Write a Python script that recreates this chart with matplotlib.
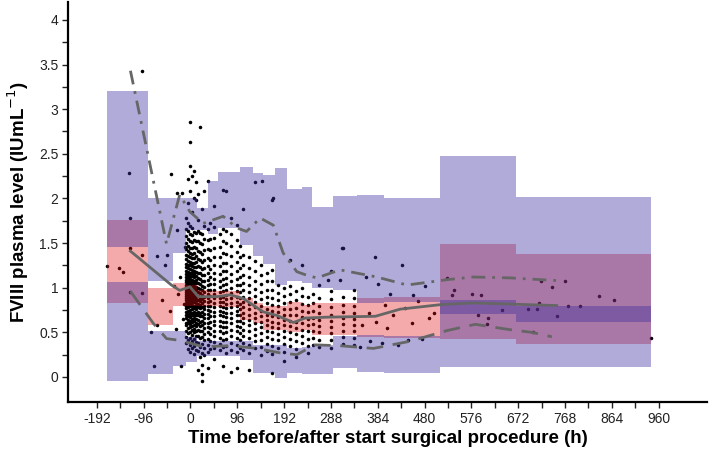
import matplotlib.pyplot as plt

plt.rcParams['font.family'] = ['Liberation Sans', 'DejaVu Sans']

# bins of the prediction intervals (h)
bin_edges = [-171, -88, -35, -10, 13, 36, 57, 101, 129, 149, 173, 197, 228, 249, 293, 341, 396, 512, 667, 945]
# 95% CI of 5th percentile
lo_low = [-0.05, 0.03, 0.12, 0.17, 0.24, 0.24, 0.24, 0.19, 0.04, 0.04, -0.01, 0.05, 0.03, 0.03, 0.10, 0.06, 0.05, 0.115, 0.115]
lo_high = [1.06, 0.51, 0.51, 0.45, 0.40, 0.40, 0.40, 0.40, 0.36, 0.36, 0.36, 0.32, 0.34, 0.36, 0.46, 0.47, 0.46, 0.86, 0.80]
# 95% CI of median
med_low = [0.83, 0.58, 0.80, 0.79, 0.80, 0.80, 0.78, 0.64, 0.60, 0.53, 0.53, 0.50, 0.53, 0.47, 0.47, 0.45, 0.44, 0.43, 0.37]
med_high = [1.76, 1.00, 1.05, 1.03, 0.97, 0.96, 0.96, 0.88, 0.83, 0.79, 0.79, 0.84, 0.81, 0.83, 0.83, 0.88, 0.90, 1.49, 1.38]
# 95% CI of 95th percentile
up_low = [1.46, 1.07, 1.39, 1.65, 1.65, 1.60, 1.67, 1.48, 1.35, 1.27, 1.03, 1.07, 1.05, 1.00, 0.97, 0.83, 0.84, 0.71, 0.62]
up_high = [3.20, 2.00, 2.00, 2.00, 1.89, 2.19, 2.30, 2.35, 2.28, 2.26, 2.34, 2.11, 2.13, 1.90, 2.03, 2.04, 2.00, 2.48, 2.02]

# observed percentiles
med_t = [-123, -39, -22, -1, 16, 54, 81, 108, 149, 177, 211, 235, 279, 379, 430, 512, 580, 751]
med_v = [1.41, 1.03, 0.97, 1.01, 0.90, 0.90, 0.92, 0.88, 0.73, 0.69, 0.61, 0.66, 0.67, 0.68, 0.76, 0.81, 0.83, 0.80]
p95_t = [-123, -49, -22, -1, 26, 67, 95, 115, 143, 170, 190, 218, 238, 259, 307, 382, 444, 526, 580, 655, 751]
p95_v = [3.43, 1.49, 2.04, 1.85, 1.72, 1.80, 1.67, 1.63, 1.78, 1.70, 1.39, 1.18, 1.14, 1.11, 1.20, 1.12, 1.03, 1.09, 1.12, 1.11, 1.08]
p5_t = [-123, -76, -49, -22, 26, 85, 136, 184, 218, 255, 307, 375, 450, 526, 584, 655, 700, 741]
p5_v = [0.96, 0.60, 0.43, 0.41, 0.34, 0.35, 0.32, 0.27, 0.25, 0.36, 0.35, 0.32, 0.40, 0.52, 0.59, 0.53, 0.50, 0.45]

# observations, grouped by sampling time
col_times = [-9, -5, -1, 3, 7, 11, 15, 19, 23, 27, 36, 40, 48, 60, 66, 72, 84, 96, 102, 108,
             120, 132, 144, 156, 168, 180, 192, 204, 216, 228, 240, 252, 264, 288, 312, 336]
col_levels = [
    [0.38, 0.45, 0.52, 0.58, 0.61, 0.66, 0.70, 0.73, 0.77, 0.80, 0.83, 0.86, 0.88, 0.91, 0.93, 0.95, 0.98, 1.01, 1.03, 1.06, 1.09, 1.12, 1.15, 1.19, 1.23, 1.27, 1.32, 1.37, 1.43, 1.50, 1.58, 1.66, 1.78],
    [0.31, 0.42, 0.49, 0.55, 0.60, 0.64, 0.68, 0.71, 0.74, 0.78, 0.81, 0.84, 0.87, 0.89, 0.92, 0.94, 0.97, 0.99, 1.02, 1.05, 1.08, 1.11, 1.14, 1.18, 1.22, 1.26, 1.30, 1.35, 1.41, 1.47, 1.55, 1.63, 1.72, 1.95, 2.22],
    [0.28, 0.36, 0.44, 0.50, 0.56, 0.59, 0.63, 0.67, 0.70, 0.72, 0.75, 0.79, 0.82, 0.85, 0.88, 0.90, 0.93, 0.96, 1.00, 1.04, 1.07, 1.10, 1.13, 1.17, 1.21, 1.25, 1.29, 1.34, 1.39, 1.45, 1.52, 1.60, 1.69, 2.08, 2.36, 2.63, 2.86],
    [0.33, 0.40, 0.47, 0.53, 0.57, 0.62, 0.65, 0.69, 0.72, 0.76, 0.80, 0.83, 0.86, 0.89, 0.91, 0.94, 0.97, 1.00, 1.03, 1.06, 1.09, 1.13, 1.16, 1.20, 1.24, 1.28, 1.33, 1.38, 1.44, 1.51, 1.59, 1.67, 1.85, 2.25],
    [0.26, 0.35, 0.43, 0.50, 0.54, 0.58, 0.63, 0.66, 0.70, 0.73, 0.77, 0.80, 0.84, 0.87, 0.90, 0.92, 0.95, 0.99, 1.02, 1.05, 1.08, 1.12, 1.15, 1.19, 1.23, 1.28, 1.33, 1.39, 1.46, 1.54, 1.62, 2.00, 2.31],
    [0.30, 0.39, 0.46, 0.52, 0.57, 0.61, 0.65, 0.69, 0.72, 0.76, 0.79, 0.83, 0.86, 0.90, 0.93, 0.97, 1.01, 1.05, 1.09, 1.13, 1.18, 1.23, 1.29, 1.36, 1.44, 1.52, 1.61, 1.98, 2.18],
    [0.08, 0.29, 0.38, 0.46, 0.53, 0.59, 0.64, 0.69, 0.73, 0.78, 0.82, 0.86, 0.91, 0.95, 1.00, 1.05, 1.11, 1.17, 1.24, 1.32, 1.41, 1.52, 1.63, 1.76, 2.05],
    [0.22, 0.34, 0.44, 0.51, 0.57, 0.62, 0.68, 0.72, 0.77, 0.81, 0.85, 0.89, 0.94, 0.99, 1.04, 1.10, 1.16, 1.23, 1.31, 1.40, 1.50, 1.61, 2.80],
    [-0.04, 0.03, 0.13, 0.27, 0.37, 0.45, 0.52, 0.58, 0.63, 0.68, 0.73, 0.78, 0.83, 0.87, 0.92, 0.97, 1.02, 1.08, 1.14, 1.21, 1.29, 1.38, 1.49, 1.60, 1.88],
    [0.25, 0.33, 0.41, 0.48, 0.55, 0.60, 0.66, 0.71, 0.76, 0.80, 0.85, 0.90, 0.95, 1.01, 1.07, 1.14, 1.22, 1.31, 1.42, 1.55, 1.69, 2.08],
    [0.10, 0.28, 0.36, 0.43, 0.50, 0.56, 0.61, 0.66, 0.71, 0.75, 0.80, 0.84, 0.88, 0.93, 0.98, 1.03, 1.09, 1.16, 1.24, 1.33, 1.43, 1.54, 1.66, 2.20],
    [0.31, 0.40, 0.48, 0.55, 0.62, 0.68, 0.74, 0.79, 0.85, 0.91, 0.97, 1.04, 1.12, 1.21, 1.31, 1.42, 1.55, 1.72],
    [0.20, 0.32, 0.39, 0.46, 0.52, 0.58, 0.63, 0.68, 0.73, 0.78, 0.83, 0.88, 0.93, 0.98, 1.04, 1.10, 1.17, 1.25, 1.34, 1.44, 1.56, 1.68, 1.92],
    [0.30, 0.37, 0.44, 0.51, 0.57, 0.63, 0.69, 0.74, 0.79, 0.84, 0.89, 0.95, 1.01, 1.08, 1.15, 1.24, 1.34, 1.46, 1.60],
    [0.12, 0.34, 0.42, 0.49, 0.56, 0.62, 0.68, 0.73, 0.78, 0.84, 0.90, 0.96, 1.03, 1.10, 1.19, 1.28, 1.39, 1.52, 1.66, 2.10],
    [0.27, 0.35, 0.43, 0.50, 0.56, 0.62, 0.67, 0.72, 0.77, 0.82, 0.87, 0.92, 0.98, 1.04, 1.11, 1.19, 1.28, 1.38, 1.50, 1.63, 2.08],
    [0.06, 0.30, 0.38, 0.46, 0.53, 0.60, 0.66, 0.72, 0.78, 0.83, 0.88, 0.94, 1.00, 1.07, 1.15, 1.24, 1.35, 1.47, 1.60, 1.78],
    [0.10, 0.28, 0.36, 0.44, 0.51, 0.57, 0.63, 0.69, 0.74, 0.79, 0.84, 0.90, 0.96, 1.03, 1.10, 1.19, 1.29, 1.40, 1.53, 1.70],
    [0.33, 0.41, 0.49, 0.56, 0.63, 0.70, 0.76, 0.82, 0.88, 0.95, 1.03, 1.12, 1.22, 1.34, 1.47],
    [0.30, 0.38, 0.46, 0.53, 0.60, 0.66, 0.72, 0.78, 0.84, 0.90, 0.97, 1.05, 1.14, 1.25, 1.37, 1.88],
    [0.08, 0.27, 0.36, 0.44, 0.51, 0.58, 0.64, 0.70, 0.76, 0.82, 0.88, 0.95, 1.03, 1.12, 1.22, 1.34],
    [0.32, 0.40, 0.47, 0.54, 0.60, 0.66, 0.72, 0.78, 0.84, 0.91, 0.99, 1.08, 1.19, 1.30, 2.18],
    [0.25, 0.34, 0.42, 0.49, 0.56, 0.62, 0.68, 0.74, 0.80, 0.87, 0.95, 1.04, 1.14, 1.26],
    [0.29, 0.37, 0.45, 0.52, 0.58, 0.64, 0.70, 0.76, 0.83, 0.90, 0.98, 1.07, 1.17],
    [0.04, 0.26, 0.35, 0.43, 0.50, 0.56, 0.62, 0.68, 0.74, 0.81, 0.89, 0.98, 1.08, 1.20, 1.98],
    [0.33, 0.41, 0.48, 0.55, 0.61, 0.67, 0.73, 0.79, 0.86, 0.94, 1.03],
    [0.18, 0.28, 0.37, 0.45, 0.52, 0.58, 0.64, 0.70, 0.76, 0.83, 0.91, 1.00],
    [0.35, 0.43, 0.50, 0.57, 0.63, 0.69, 0.76, 0.84, 0.93, 1.02, 1.31],
    [0.22, 0.31, 0.40, 0.48, 0.55, 0.62, 0.69, 0.77, 0.86, 0.96],
    [0.38, 0.46, 0.53, 0.60, 0.67, 0.74, 0.82, 0.91, 1.00, 1.25],
    [0.27, 0.35, 0.43, 0.51, 0.58, 0.65, 0.73, 0.81, 0.90],
    [0.36, 0.44, 0.52, 0.59, 0.66, 0.74, 0.83, 0.93],
    [0.34, 0.42, 0.50, 0.57, 0.64, 0.72, 0.80, 0.89, 1.03],
    [0.33, 0.41, 0.49, 0.56, 0.63, 0.70, 0.78, 0.87, 0.96, 1.19],
    [0.37, 0.45, 0.52, 0.59, 0.66, 0.73, 0.81, 0.90, 1.45],
    [0.36, 0.44, 0.51, 0.58, 0.65, 0.72, 0.80, 0.88, 0.97],
]
# sparse observations (pre-op and late)
extra_t = [-171, -146, -138, -126, -124, -124, -123, -100, -99, -99, -80, -74, -69, -69, -58, -52, -49, -42, -39,
           -28, -28, -25, -22, -18, -19, -16, -14, -30, -33, -12, 146, 170, 310, 283, 307,
           348, 352, 360, 366, 368, 378, 380, 385, 392, 398, 402, 409, 415, 426, 433, 440, 447, 455, 457, 466, 474, 481, 490, 500,
           526, 536, 540, 577, 590, 595, 607, 610, 638, 693, 702, 710, 715, 718, 741, 751, 767, 774, 798, 837, 869, 945]
extra_v = [1.24, 1.22, 1.18, 2.29, 1.78, 1.45, 0.95, 3.43, 1.37, 0.94, 0.50, 0.12, 1.35, 0.58, 0.86, 1.26, 1.37, 0.74, 2.27,
           2.06, 1.65, 0.93, 1.12, 2.06, 0.12, 0.65, 0.82, 0.54, 1.02, 1.46, 2.19, 2.00, 1.44, 1.09, 1.09,
           0.34, 0.58, 1.12, 0.72, 0.40, 1.34, 0.62, 1.04, 0.38, 0.81, 0.55, 0.93, 0.69, 0.36, 1.25, 0.77, 0.42, 0.60, 0.92, 0.85, 0.43, 1.02, 0.66, 0.72,
           1.11, 0.92, 0.97, 0.93, 0.69, 0.92, 0.59, 0.66, 0.75, 0.76, 0.50, 0.76, 0.83, 1.08, 1.01, 0.68, 1.08, 0.80, 0.79, 0.91, 0.86, 0.44]

obs_t = list(extra_t)
obs_v = list(extra_v)
for t, levels in zip(col_times, col_levels):
    obs_t += [t] * len(levels)
    obs_v += levels

fig = plt.figure(figsize=(7.09, 4.51), dpi=100)
ax = fig.add_axes([68 / 709, 49 / 451, 639 / 709, 400 / 451])

# observations first, the shaded intervals are laid over them
ax.scatter(obs_t, obs_v, s=6.5, c='black', linewidths=0, zorder=1)

widths = [b - a for a, b in zip(bin_edges[:-1], bin_edges[1:])]
lefts = bin_edges[:-1]
# median interval underneath, both percentile intervals on top
ax.bar(lefts, [h - l for l, h in zip(med_low, med_high)], width=widths, bottom=med_low,
       align='edge', color='#e20c0c', alpha=0.35, linewidth=0, zorder=2)
ax.bar(lefts, [h - l for l, h in zip(lo_low, lo_high)], width=widths, bottom=lo_low,
       align='edge', color='#3c2fa0', alpha=0.4, linewidth=0, zorder=3)
ax.bar(lefts, [h - l for l, h in zip(up_low, up_high)], width=widths, bottom=up_low,
       align='edge', color='#3c2fa0', alpha=0.4, linewidth=0, zorder=4)

ax.plot(med_t, med_v, color='#666666', lw=2, zorder=5)
ax.plot(p95_t, p95_v, color='#666666', lw=2, ls=(0, (5, 2.5, 1, 2.5)), zorder=5)
ax.plot(p5_t, p5_v, color='#666666', lw=2, ls=(0, (6, 3.5)), zorder=5)

ax.set_xlim(-251, 1059)
ax.set_ylim(-0.28, 4.2)

xt = list(range(-192, 961, 48))
ax.set_xticks(xt)
ax.set_xticklabels([str(t) if t % 96 == 0 else '' for t in xt])
yt = [i * 0.25 for i in range(17)]
ax.set_yticks(yt)
ax.set_yticklabels(['%g' % v if i % 2 == 0 else '' for i, v in enumerate(yt)])
ax.tick_params(direction='out', length=4, width=1, labelsize=10, colors='#222222', pad=3)

for side in ['top', 'right']:
    ax.spines[side].set_visible(False)
for side in ['left', 'bottom']:
    ax.spines[side].set_linewidth(1.6)

ax.set_xlabel('Time before/after start surgical procedure (h)', fontsize=13.5, fontweight='bold', labelpad=3)
ax.set_ylabel('FVIII plasma level (IUmL$^{-1}$)', fontsize=13.5, fontweight='bold', labelpad=6)

plt.savefig('out.png', dpi=100)
